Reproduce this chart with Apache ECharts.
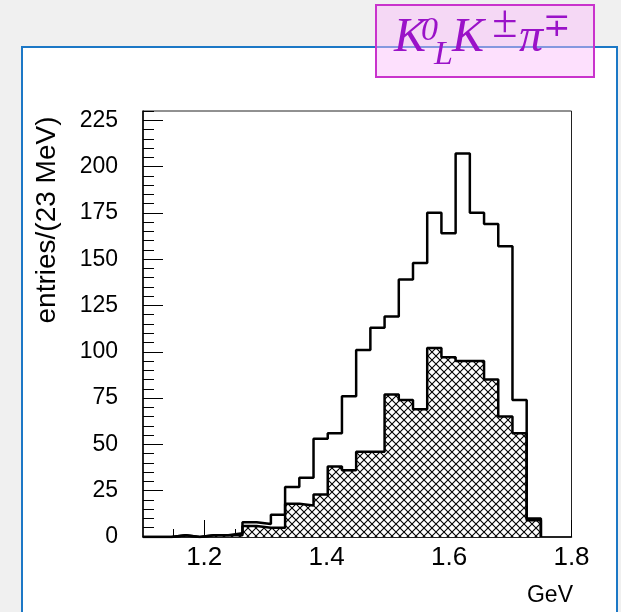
<!DOCTYPE html>
<html>
<head>
<meta charset="utf-8">
<script src="https://cdn.jsdelivr.net/npm/echarts@6/dist/echarts.min.js"></script>
<style>
html,body{margin:0;padding:0;background:#f0f0f0;}
#chart{width:621px;height:612px;}
</style>
</head>
<body>
<div id="chart"></div>
<script>
// ---- data ----
const binLow = 1.10;           // GeV, first bin lower edge
const binHigh = 1.75;          // GeV, last bin upper edge
const nBins = 28;              // 23 MeV bins
const totalCounts   = [0,0,1,0,1,1,2,8,7,12,27,32,53,56,76,101,113,119,139,148,175,164,207,175,169,157,74,10];
const hatchedCounts = [0,0,1,0,1,1,1,6,5,5,18,17,23,38,36,46,46,77,74,69,102,97,95,95,85,65,56,9];
const xTickValues = [1.2, 1.4, 1.6, 1.8];
const xMinorTicks = [1.15, 1.25, 1.3, 1.35, 1.45, 1.5, 1.55, 1.65, 1.7, 1.75];
const yTickValues = [0, 25, 50, 75, 100, 125, 150, 175, 200, 225];
const yTitle = 'entries/(23 MeV)';
const xTitle = 'GeV';

// ---- build step data at bin edges ----
const bw = (binHigh - binLow) / nBins;
function stepData(counts) {
  const d = counts.map((c, i) => [binLow + i * bw, c]);
  d.push([binHigh, 0]);
  return d;
}
const yMinor = [];
for (let v = 5; v <= 230; v += 5) if (v % 25 !== 0) yMinor.push(v);

// ---- hatch pattern ----
function hatch() {
  const s = 8;
  const c = document.createElement('canvas');
  c.width = s; c.height = s;
  const g = c.getContext('2d');
  g.fillStyle = '#ffffff';
  g.fillRect(0, 0, s, s);
  g.strokeStyle = '#000000';
  g.lineWidth = 1.1;
  g.beginPath();
  g.moveTo(-1, -1); g.lineTo(s + 1, s + 1);
  g.moveTo(-1, s + 1); g.lineTo(s + 1, -1);
  g.stroke();
  return c;
}

const chart = echarts.init(document.getElementById('chart'), null, {renderer: 'canvas'});
const serif = '"Liberation Serif","DejaVu Serif",serif';
const purple = '#9a12c8';
const option = {
  backgroundColor: '#f0f0f0',
  animation: false,
  grid: {left: 143, right: 49.5, top: 111, bottom: 75, show: true, borderColor: '#222', borderWidth: 1, backgroundColor: 'transparent'},
  xAxis: [{
    type: 'value', min: 1.1, max: 1.8,
    axisLine: {show: true, onZero: false, lineStyle: {color: '#000', width: 1.5}},
    splitLine: {show: false},
    axisTick: {show: true, inside: true, length: 17, customValues: xTickValues, lineStyle: {color: '#000', width: 1}},
    axisLabel: {customValues: xTickValues, formatter: v => v.toFixed(1), color: '#000', fontFamily: '"Liberation Sans", Arial, sans-serif', fontSize: 26, margin: 8}
  }, {
    type: 'value', min: 1.1, max: 1.8, position: 'bottom',
    axisLine: {show: false}, splitLine: {show: false}, axisLabel: {show: false},
    axisTick: {show: true, inside: true, length: 8, customValues: xMinorTicks, lineStyle: {color: '#000', width: 1}}
  }],
  yAxis: [{
    type: 'value', min: 0, max: 230,
    axisLine: {show: true, onZero: false, lineStyle: {color: '#000', width: 1.5}},
    splitLine: {show: false},
    axisTick: {show: true, inside: true, length: 20, customValues: yTickValues, lineStyle: {color: '#000', width: 1}},
    axisLabel: {customValues: yTickValues, color: '#000', fontFamily: '"Liberation Sans", Arial, sans-serif', fontSize: 23, margin: 25}
  }, {
    type: 'value', min: 0, max: 230, position: 'left',
    axisLine: {show: false}, splitLine: {show: false}, axisLabel: {show: false},
    axisTick: {show: true, inside: true, length: 11, customValues: yMinor, lineStyle: {color: '#000', width: 1}}
  }],
  series: [{
    type: 'line', name: 'hatched', step: 'end', xAxisIndex: 0, yAxisIndex: 0,
    data: stepData(hatchedCounts), showSymbol: false, z: 3,
    lineStyle: {color: '#000', width: 2.5},
    areaStyle: {color: {image: hatch(), repeat: 'repeat'}, opacity: 1}
  }, {
    type: 'line', name: 'total', step: 'end', xAxisIndex: 0, yAxisIndex: 0,
    data: stepData(totalCounts), showSymbol: false, z: 4,
    lineStyle: {color: '#000', width: 2.5}
  }],
  graphic: [
    {type: 'rect', z: -5, shape: {x: 22, y: 47, width: 595, height: 620}, style: {fill: '#ffffff', stroke: '#1c78c6', lineWidth: 2}},
    {type: 'text', z: 10, x: 47, y: 220, rotation: Math.PI / 2,
      style: {text: yTitle, font: '28px "Liberation Sans", Arial, sans-serif', fill: '#000', textAlign: 'center', textVerticalAlign: 'middle'}},
    {type: 'text', z: 10, x: 573, y: 596,
      style: {text: xTitle, font: '23px "Liberation Sans", Arial, sans-serif', fill: '#000', textAlign: 'right', textVerticalAlign: 'middle'}},
    {type: 'rect', z: 50, shape: {x: 376, y: 5, width: 218, height: 72}, style: {fill: 'rgba(250,189,250,0.47)', stroke: '#c933cc', lineWidth: 2}},
    {type: 'text', z: 51, x: 394, y: 38, style: {text: 'K', font: 'italic 48px ' + serif, fill: purple, textAlign: 'left', textVerticalAlign: 'middle'}},
    {type: 'text', z: 51, x: 421, y: 31, style: {text: '0', font: 'italic 34px ' + serif, fill: purple, textAlign: 'left', textVerticalAlign: 'middle'}},
    {type: 'text', z: 51, x: 434, y: 55, style: {text: 'L', font: 'italic 34px ' + serif, fill: purple, textAlign: 'left', textVerticalAlign: 'middle'}},
    {type: 'text', z: 51, x: 452, y: 38, style: {text: 'K', font: 'italic 48px ' + serif, fill: purple, textAlign: 'left', textVerticalAlign: 'middle'}},
    {type: 'text', z: 51, x: 492, y: 25, style: {text: '\u00B1', font: 'italic 46px ' + serif, fill: purple, textAlign: 'left', textVerticalAlign: 'middle'}},
    {type: 'text', z: 51, x: 519, y: 38, style: {text: '\u03C0', font: 'italic 48px ' + serif, fill: purple, textAlign: 'left', textVerticalAlign: 'middle'}},
    {type: 'text', z: 51, x: 543, y: 27, style: {text: '\u2213', font: 'italic 33px ' + serif, fill: purple, textAlign: 'left', textVerticalAlign: 'middle'}}
  ]
};
chart.setOption(option);
</script>
</body>
</html>
